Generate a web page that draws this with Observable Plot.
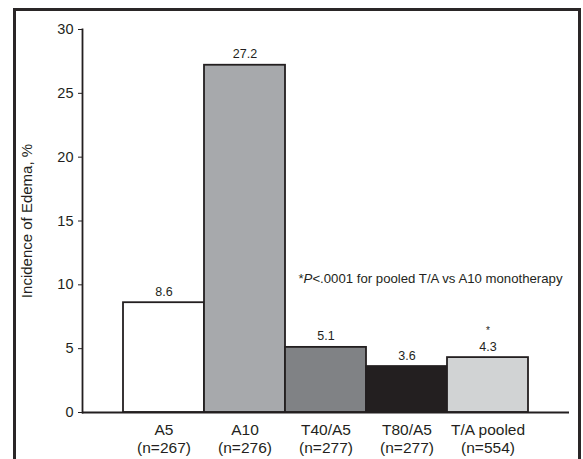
<!DOCTYPE html>
<html>
<head>
<meta charset="utf-8">
<script src="https://cdn.jsdelivr.net/npm/d3@7"></script>
<script src="https://cdn.jsdelivr.net/npm/@observablehq/plot@0.6"></script>
<style>
  html, body { margin: 0; padding: 0; background: #fff; }
  #wrap { position: relative; width: 583px; height: 459px; overflow: hidden; }
  #border { position: absolute; left: 13px; top: 8px; width: 562px; height: 470px;
            border: 3px solid #2a2627; border-bottom: none; box-sizing: content-box; }
  #chart { position: absolute; left: 0; top: 0; }
</style>
</head>
<body>
<div id="wrap"><div id="border"></div><div id="chart"></div></div>
<script>
const categories = ["A5", "A10", "T40/A5", "T80/A5", "T/A pooled"];
const sampleSizes = [267, 276, 277, 277, 554];
const incidence = [8.6, 27.2, 5.1, 3.6, 4.3];
const significant = [false, false, false, false, true];
const barColors = ["#ffffff", "#a7a9ac", "#808285", "#231f20", "#d1d3d4"];
const yTicks = [0, 5, 10, 15, 20, 25, 30];
const yLabel = "Incidence of Edema, %";
const noteText = "*P<.0001 for pooled T/A vs A10 monotherapy";
const noteY = 10.5;

const data = categories.map((c, i) => ({cat: c, n: sampleSizes[i], value: incidence[i], sig: significant[i]}));
const nByCat = new Map(data.map(d => [d.cat, d.n]));
const ink = "#231f20";

const plot = Plot.plot({
  width: 583,
  height: 459,
  marginLeft: 82,
  marginRight: 14,
  marginTop: 29,
  marginBottom: 47,
  style: {fontFamily: "'Liberation Sans', Arial, sans-serif", fontSize: "13px", color: ink, background: "transparent"},
  x: {domain: categories, paddingInner: 0, paddingOuter: 0.5, axis: null},
  y: {domain: [0, 30], axis: null},
  color: {domain: categories, range: barColors},
  marks: [
    Plot.barY(data, {x: "cat", y: "value", fill: "cat", stroke: ink, strokeWidth: 1.8}),
    Plot.ruleY([0], {stroke: ink, strokeWidth: 1.8}),
    Plot.frame({anchor: "left", stroke: ink, strokeWidth: 1.8}),
    Plot.axisY({ticks: yTicks, tickSize: 4, tickPadding: 5, stroke: ink, fontSize: 15, label: null}),
    Plot.axisY({ticks: [], tickSize: 0, fontSize: 15,
      label: yLabel, labelAnchor: "center", labelArrow: "none", labelOffset: 61}),
    Plot.axisX({tickSize: 0, tickPadding: 9, fontSize: 15.5, lineHeight: 1.18, label: null,
      tickFormat: d => `${d}\n(n=${nByCat.get(d)})`}),
    Plot.text(data, {x: "cat", y: "value", text: d => d.value.toFixed(1), dy: -7, lineAnchor: "bottom", fontSize: 12.5, fill: ink}),
    Plot.text(data.filter(d => d.sig), {x: "cat", y: "value", text: () => "*", dy: -24, lineAnchor: "bottom", fontSize: 10, fill: ink}),
    Plot.text([noteText], {frameAnchor: "right", y: () => noteY, text: d => d, dx: -7, textAnchor: "end", fontSize: 13.2, fill: ink})
  ]
});

// make sure the y tick labels use the intended size
d3.select(plot).selectAll('g[aria-label="y-axis tick label"]').attr("font-size", 14.5)
  .selectAll("text").attr("font-size", null);

// italicise the P in the footnote
d3.select(plot).selectAll("text").filter(function() { return this.textContent === noteText; })
  .each(function() {
    const t = d3.select(this);
    t.text(null);
    t.append("tspan").text("*");
    t.append("tspan").attr("font-style", "italic").text("P");
    t.append("tspan").text(noteText.slice(2));
  });

document.getElementById("chart").appendChild(plot);
</script>
</body>
</html>
